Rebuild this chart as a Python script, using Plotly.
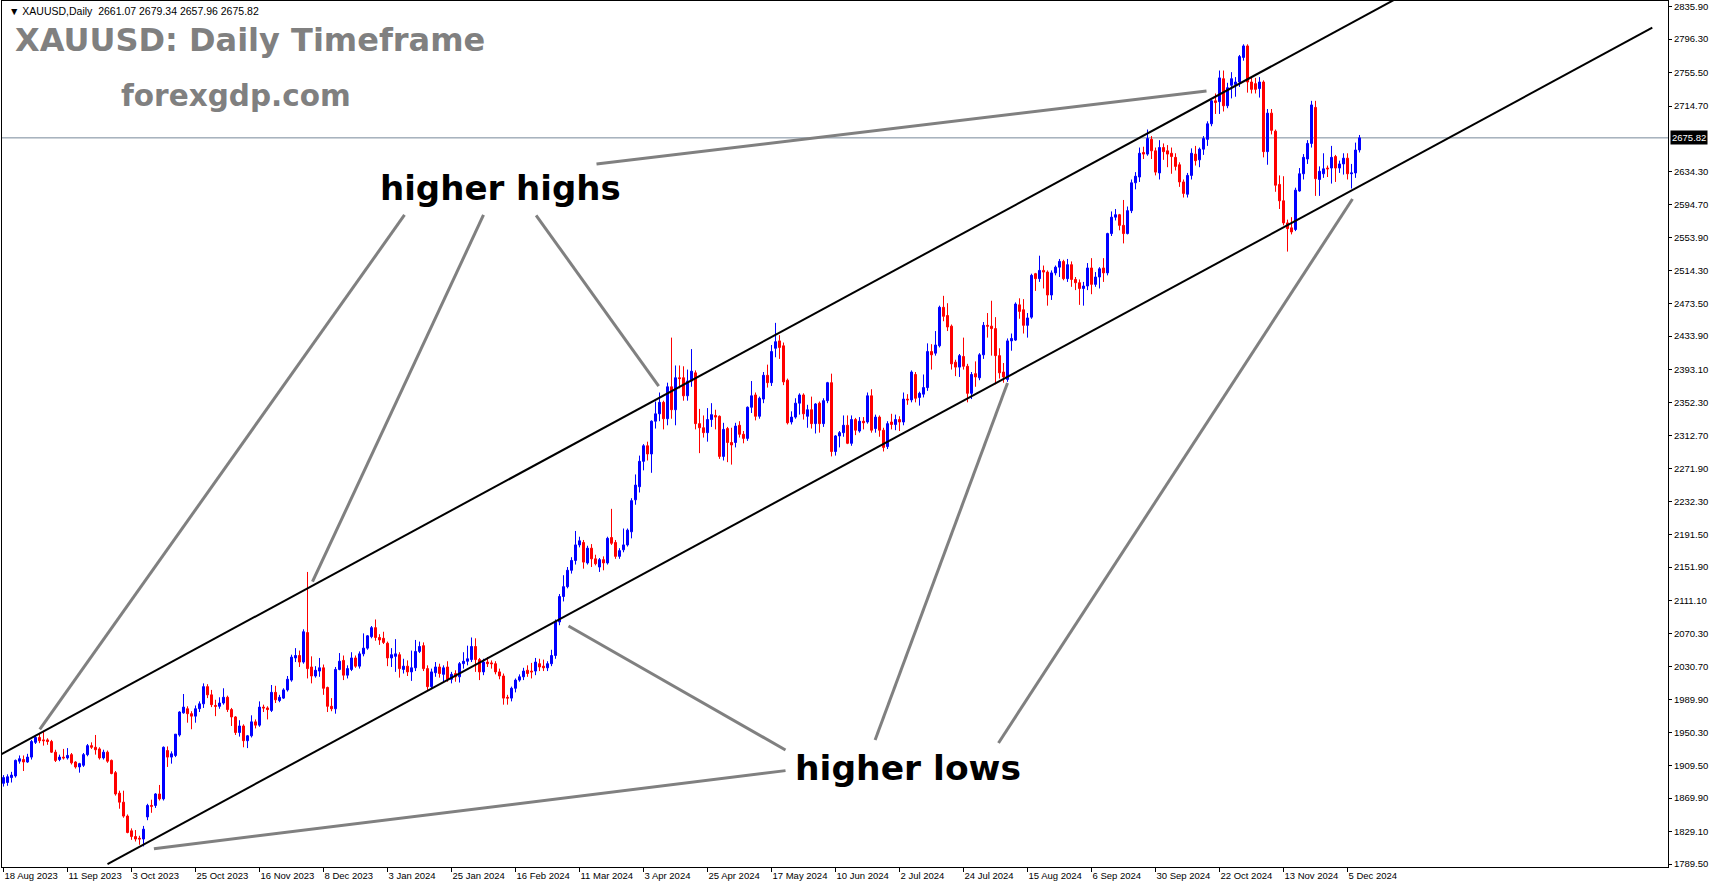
import plotly.graph_objects as go

# ---------------- data (daily XAUUSD bars) ----------------
opens = [
 1888,1889,1895,1897,1915,1917,1914,1920,1938,1944,
 1941,1941,1939,1926,1917,1920,1919,1923,1914,1908,
 1910,1923,1934,1932,1930,1919,1926,1916,1901,1876,
 1865,1848,1830,1823,1821,1820,1847,1861,1861,1875,
 1869,1928,1920,1922,1947,1974,1979,1973,1970,1979,
 1985,2006,1996,1983,1982,1986,1993,1978,1969,1950,
 1958,1940,1946,1963,1959,1981,1980,1977,1999,1989,
 1992,2002,2014,2041,2044,2036,2072,2030,2019,2025,
 2029,2005,1982,1979,2027,2038,2020,2027,2041,2031,
 2046,2053,2067,2078,2066,2065,2059,2041,2043,2045,
 2027,2031,2024,2029,2049,2056,2028,2006,2023,2030,
 2021,2030,2015,2022,2018,2034,2037,2039,2055,2039,
 2024,2036,2035,2034,2024,2019,1993,1992,2004,2014,
 2018,2026,2025,2025,2034,2031,2029,2034,2044,2085,
 2116,2128,2148,2160,2179,2182,2157,2175,2162,2152,
 2161,2157,2188,2182,2165,2173,2179,2195,2234,2250,
 2281,2300,2290,2330,2339,2353,2333,2372,2344,2383,
 2383,2361,2379,2389,2327,2322,2316,2332,2337,2336,
 2287,2321,2304,2304,2325,2314,2309,2347,2362,2336,
 2357,2386,2377,2419,2428,2422,2380,2329,2335,2352,
 2362,2336,2344,2327,2352,2327,2355,2377,2293,2312,
 2316,2325,2303,2332,2318,2330,2329,2361,2321,2335,
 2319,2299,2329,2326,2332,2329,2357,2356,2387,2359,
 2363,2371,2415,2413,2422,2469,2459,2446,2402,2396,
 2409,2397,2364,2388,2383,2411,2447,2446,2443,2410,
 2390,2381,2428,2429,2472,2466,2447,2457,2510,2504,
 2514,2512,2484,2511,2518,2525,2504,2521,2503,2499,
 2492,2495,2517,2497,2506,2517,2511,2559,2579,2582,
 2569,2559,2587,2621,2628,2658,2656,2674,2660,2633,
 2664,2660,2657,2652,2643,2622,2607,2630,2656,2649,
 2662,2674,2693,2721,2720,2748,2715,2740,2741,2744,
 2774,2788,2744,2742,2736,2744,2659,2706,2684,2619,
 2599,2572,2566,2564,2611,2632,2650,2669,2713,2625,
 2632,2639,2639,2653,2639,2644,2651,2632,2633,2661.07]

highs = [
 1898,1899,1902,1917,1922,1922,1924,1941,1947,1949,
 1952,1943,1941,1929,1923,1930,1931,1925,1915,1913,
 1925,1936,1938,1947,1932,1929,1928,1917,1903,1879,
 1879,1850,1833,1831,1824,1836,1863,1868,1876,1886,
 1933,1933,1927,1948,1976,1997,1982,1976,1983,1988,
 2010,2009,2002,1990,1993,2004,1995,1980,1970,1965,
 1960,1947,1971,1966,1988,1984,1982,2008,2007,1996,
 2004,2019,2045,2053,2050,2076,2146,2043,2031,2041,
 2033,2006,1992,2030,2047,2044,2032,2048,2044,2049,
 2071,2069,2080,2088,2070,2073,2061,2053,2064,2048,
 2040,2038,2050,2063,2061,2060,2032,2028,2036,2034,
 2032,2037,2024,2026,2036,2048,2056,2066,2065,2041,
 2040,2042,2038,2037,2028,2022,1996,2006,2016,2021,
 2029,2032,2035,2041,2040,2039,2037,2051,2088,2119,
 2142,2152,2164,2196,2189,2185,2178,2180,2167,2163,
 2165,2189,2223,2185,2175,2199,2199,2236,2265,2288,
 2302,2305,2331,2354,2365,2355,2377,2432,2398,2398,
 2397,2393,2418,2392,2345,2337,2346,2352,2344,2337,
 2328,2323,2322,2328,2330,2318,2348,2379,2365,2360,
 2390,2399,2423,2450,2435,2426,2382,2342,2358,2364,
 2364,2350,2360,2352,2354,2358,2378,2388,2313,2318,
 2337,2337,2337,2334,2335,2335,2365,2369,2338,2337,
 2322,2330,2339,2338,2336,2365,2363,2392,2390,2366,
 2387,2425,2424,2440,2471,2483,2474,2448,2405,2412,
 2432,2400,2390,2403,2413,2451,2462,2477,2457,2419,
 2401,2431,2437,2475,2480,2479,2462,2510,2511,2532,
 2520,2514,2514,2520,2528,2527,2528,2525,2506,2503,
 2500,2523,2529,2512,2518,2529,2560,2586,2589,2583,
 2600,2592,2625,2634,2664,2665,2686,2678,2664,2673,
 2669,2667,2664,2657,2646,2625,2633,2663,2666,2664,
 2678,2696,2722,2730,2758,2758,2743,2756,2750,2777,
 2790,2790,2750,2749,2750,2746,2711,2711,2686,2630,
 2629,2576,2579,2615,2639,2656,2673,2721,2721,2641,
 2657,2642,2666,2655,2648,2657,2657,2644,2670,2679.34]

lows = [
 1884,1885,1889,1895,1912,1903,1913,1917,1936,1937,
 1934,1935,1925,1914,1915,1917,1917,1911,1906,1901,
 1908,1921,1930,1923,1917,1917,1913,1899,1873,1857,
 1846,1827,1819,1817,1813,1811,1843,1852,1858,1867,
 1867,1908,1912,1920,1945,1973,1962,1954,1962,1975,
 1980,1992,1981,1970,1979,1984,1975,1958,1947,1945,
 1932,1931,1944,1955,1957,1975,1966,1975,1986,1987,
 1991,2000,2012,2036,2030,2034,2016,2010,2017,2018,
 1996,1975,1976,1973,2026,2014,2016,2025,2029,2028,
 2043,2051,2065,2062,2057,2058,2031,2030,2024,2017,
 2022,2019,2013,2025,2047,2025,2002,2004,2018,2017,
 2011,2012,2010,2012,2011,2028,2032,2036,2024,2014,
 2020,2030,2028,2021,2015,1984,1984,1988,1999,2012,
 2014,2018,2016,2020,2025,2025,2025,2031,2040,2081,
 2110,2126,2144,2155,2176,2150,2155,2152,2154,2146,
 2148,2155,2179,2162,2162,2170,2177,2187,2228,2243,
 2270,2282,2267,2321,2330,2320,2325,2333,2325,2370,
 2355,2355,2372,2320,2291,2310,2305,2323,2320,2284,
 2282,2280,2277,2298,2310,2303,2306,2340,2331,2333,
 2352,2371,2373,2408,2406,2374,2326,2326,2333,2338,
 2332,2322,2321,2315,2316,2323,2352,2287,2288,2298,
 2311,2302,2300,2313,2316,2320,2327,2316,2316,2311,
 2293,2296,2320,2319,2318,2325,2350,2353,2353,2349,
 2359,2367,2393,2410,2420,2452,2440,2393,2385,2384,
 2393,2353,2357,2372,2380,2406,2432,2410,2375,2382,
 2377,2378,2416,2428,2455,2437,2432,2455,2489,2500,
 2492,2471,2478,2508,2506,2502,2500,2494,2490,2472,
 2471,2490,2485,2494,2492,2500,2508,2556,2575,2563,
 2547,2558,2584,2613,2622,2650,2654,2650,2630,2625,
 2649,2640,2632,2636,2616,2603,2603,2625,2642,2640,
 2655,2666,2690,2705,2705,2708,2712,2724,2726,2738,
 2770,2731,2730,2730,2725,2652,2643,2680,2610,2589,
 2569,2537,2558,2562,2610,2625,2644,2664,2605,2605,
 2627,2628,2620,2622,2633,2631,2625,2614,2627,2657.96]

closes = [
 1895,1896,1898,1916,1918,1914,1920,1939,1944,1940,
 1940,1939,1926,1916,1920,1919,1922,1913,1908,1912,
 1923,1934,1932,1929,1919,1926,1915,1900,1875,1865,
 1848,1828,1823,1820,1820,1832,1861,1860,1875,1869,
 1932,1920,1924,1948,1975,1981,1973,1970,1979,1985,
 2006,1996,1984,1982,1986,1993,1978,1969,1950,1958,
 1940,1946,1963,1959,1981,1980,1978,1999,1990,1993,
 2002,2015,2042,2044,2036,2073,2028,2019,2026,2029,
 2004,1982,1979,2027,2037,2020,2028,2041,2031,2046,
 2053,2068,2078,2066,2063,2060,2041,2045,2046,2028,
 2031,2024,2029,2049,2055,2028,2006,2024,2030,2022,
 2029,2015,2021,2018,2034,2037,2040,2055,2039,2024,
 2036,2034,2034,2024,2019,1992,1992,2004,2014,2018,
 2025,2022,2024,2036,2030,2029,2034,2044,2085,2116,
 2128,2148,2160,2179,2184,2158,2175,2162,2156,2161,
 2157,2187,2181,2165,2172,2179,2197,2233,2252,2281,
 2300,2290,2330,2339,2353,2333,2372,2344,2383,2382,
 2361,2379,2391,2327,2322,2316,2332,2338,2335,2287,
 2320,2304,2301,2324,2314,2309,2347,2361,2336,2358,
 2386,2377,2415,2427,2420,2378,2328,2335,2352,2362,
 2339,2344,2327,2351,2327,2355,2377,2293,2312,2316,
 2325,2303,2332,2319,2330,2328,2361,2319,2335,2319,
 2298,2327,2326,2332,2329,2357,2356,2390,2358,2364,
 2371,2415,2411,2423,2469,2458,2445,2400,2396,2410,
 2397,2364,2387,2384,2411,2447,2446,2443,2410,2389,
 2384,2428,2431,2473,2464,2447,2456,2508,2504,2514,
 2512,2484,2511,2518,2525,2504,2521,2503,2499,2492,
 2495,2517,2497,2506,2516,2511,2559,2579,2582,2569,
 2559,2587,2621,2629,2657,2656,2675,2660,2634,2664,
 2659,2656,2653,2641,2622,2608,2630,2657,2648,2662,
 2675,2693,2721,2719,2749,2715,2737,2748,2744,2775,
 2788,2744,2735,2735,2744,2659,2706,2685,2618,2599,
 2572,2565,2561,2612,2632,2652,2669,2716,2626,2635,
 2638,2638,2652,2639,2644,2651,2632,2633,2661,2675.82]

date_labels = ["18 Aug 2023", "11 Sep 2023", "3 Oct 2023", "25 Oct 2023", "16 Nov 2023",
               "8 Dec 2023", "3 Jan 2024", "25 Jan 2024", "16 Feb 2024", "11 Mar 2024",
               "3 Apr 2024", "25 Apr 2024", "17 May 2024", "10 Jun 2024", "2 Jul 2024",
               "24 Jul 2024", "15 Aug 2024", "6 Sep 2024", "30 Sep 2024", "22 Oct 2024",
               "13 Nov 2024", "5 Dec 2024"]
label_step = 16  # bars between date labels

price_ticks = [2835.90, 2796.30, 2755.50, 2714.70, 2634.30, 2594.70, 2553.90, 2514.30,
               2473.50, 2433.90, 2393.10, 2352.30, 2312.70, 2271.90, 2232.30, 2191.50,
               2151.90, 2111.10, 2070.30, 2030.70, 1989.90, 1950.30, 1909.50, 1869.90,
               1829.10, 1789.50]

bid_price = 2675.82

# trader drawings: (bar index, price) endpoints
channel_lines = [[(-1, 1922.4), (360, 2876.9)],
                 [(26, 1789.5), (412.2, 2810.3)]]
pointer_lines = [[(148.25, 2643.9), (300.75, 2733.0)],
                 [(100.25, 2581.7), (9.07, 1953.9)],
                 [(120.0, 2581.7), (77.25, 2134.1)],
                 [(133.15, 2581.3), (163.8, 2372.9)],
                 [(195.5, 1903.5), (37.6, 1808.2)],
                 [(195.5, 1928.7), (141.25, 2080.0)],
                 [(217.9, 1940.9), (251.0, 2376.6)],
                 [(248.75, 1937.2), (337.25, 2601.2)]]

# ---------------- figure ----------------
bars = list(range(len(closes)))

fig = go.Figure()
fig.add_trace(go.Candlestick(
    x=bars, open=opens, high=highs, low=lows, close=closes,
    increasing=dict(line=dict(color="#0000FF", width=1), fillcolor="#0000FF"),
    decreasing=dict(line=dict(color="#FF0000", width=1), fillcolor="#FF0000"),
    whiskerwidth=0, showlegend=False, hoverinfo="skip"))

shapes = []
for (x0, y0), (x1, y1) in channel_lines:
    shapes.append(dict(type="line", xref="x", yref="y", x0=x0, y0=y0, x1=x1, y1=y1,
                       line=dict(color="#000000", width=2), layer="above"))
for (x0, y0), (x1, y1) in pointer_lines:
    shapes.append(dict(type="line", xref="x", yref="y", x0=x0, y0=y0, x1=x1, y1=y1,
                       line=dict(color="#808080", width=3), layer="above"))
shapes.append(dict(type="line", xref="paper", yref="y", x0=0, x1=1, y0=bid_price, y1=bid_price,
                   line=dict(color="#778899", width=1), layer="below"))

annotations = [
    dict(text="▼ XAUUSD,Daily  2661.07 2679.34 2657.96 2675.82", xref="paper", yref="paper",
         x=0.003, y=0.9885, xanchor="left", yanchor="middle", showarrow=False,
         font=dict(family="Liberation Sans", size=10.5, color="#000000")),
    dict(text="<b>XAUUSD: Daily Timeframe</b>", xref="paper", yref="paper",
         x=0.0066, y=0.955, xanchor="left", yanchor="middle", showarrow=False,
         font=dict(family="DejaVu Sans", size=32, color="#808080")),
    dict(text="<b>forexgdp.com</b>", xref="paper", yref="paper",
         x=0.1404, y=0.8903, xanchor="center", yanchor="middle", showarrow=False,
         font=dict(family="DejaVu Sans", size=29.5, color="#808080")),
    dict(text="<b>higher highs</b>", xref="x", yref="y", x=124.25, y=2614.6,
         xanchor="center", yanchor="middle", showarrow=False,
         font=dict(family="DejaVu Sans", size=34, color="#000000")),
    dict(text="<b>higher lows</b>", xref="x", yref="y", x=226.0, y=1906.7,
         xanchor="center", yanchor="middle", showarrow=False,
         font=dict(family="DejaVu Sans", size=34.5, color="#000000")),
    dict(text=f"{bid_price:.2f}", xref="paper", yref="y", x=1.0012, y=bid_price,
         xanchor="left", yanchor="middle", showarrow=False, bgcolor="#000000",
         borderpad=1, font=dict(family="Liberation Sans", size=9.5, color="#FFFFFF")),
]

fig.update_layout(
    width=1714, height=888,
    margin=dict(l=2, r=46, t=1, b=21),
    paper_bgcolor="#FFFFFF", plot_bgcolor="#FFFFFF",
    boxgap=0.5, boxgroupgap=0,
    shapes=shapes, annotations=annotations,
    showlegend=False,
    xaxis=dict(range=[-0.375, 416.125], rangeslider=dict(visible=False),
               tickvals=[i * label_step for i in range(len(date_labels))],
               ticktext=date_labels, ticks="outside", ticklen=4, tickcolor="#000000",
               ticklabelposition="outside right",
               tickfont=dict(family="Liberation Sans", size=9.5, color="#000000"),
               showgrid=False, zeroline=False, showline=True, linecolor="#000000",
               linewidth=1, mirror=True),
    yaxis=dict(range=[1785.86, 2842.86], side="right",
               tickvals=price_ticks, ticktext=[f"{v:.2f}" for v in price_ticks],
               ticks="outside", ticklen=3, tickcolor="#000000",
               tickfont=dict(family="Liberation Sans", size=9.5, color="#000000"),
               showgrid=False, zeroline=False, showline=True, linecolor="#000000",
               linewidth=1, mirror=True),
)

fig.write_html("out.html", config={"displayModeBar": False},
               post_script="document.body.style.margin='0';")
